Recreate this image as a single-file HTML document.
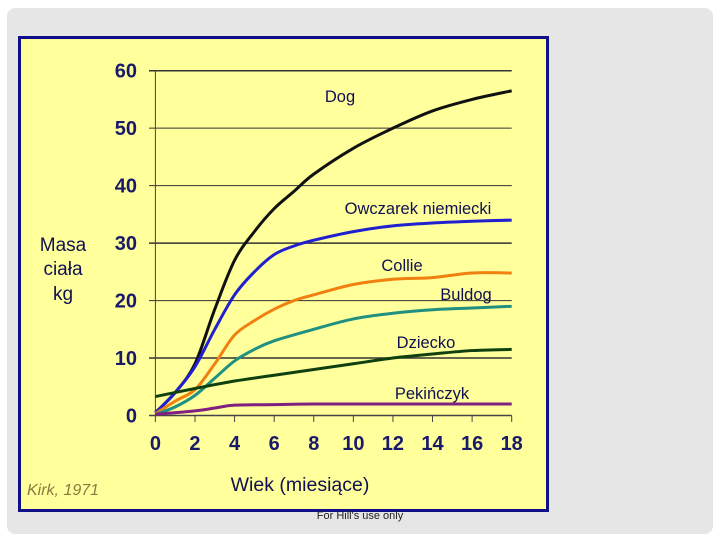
<!DOCTYPE html>
<html><head><meta charset="utf-8"><style>
body{margin:0;width:720px;height:540px;background:#fff;overflow:hidden;font-family:"Liberation Sans","Noto Sans CJK JP",sans-serif}
#panel{position:absolute;left:7px;top:8px;width:706px;height:526px;background:#e6e6e6;border-radius:8px}
#box{position:absolute;left:18px;top:36px;width:525px;height:470px;background:#ffff9c;border:3px solid #10108a}
svg{position:absolute;left:0;top:0}
</style></head><body>
<div id="panel"></div>
<div id="box"></div>
<svg id="chart" width="720" height="540"></svg>
<script>
const xTicks=[0,2,4,6,8,10,12,14,16,18];
const yTicks=[0,10,20,30,40,50,60];
const dogX=[0,1,2,3,4,5,6,7,8,10,12,14,16,18];
const dogY=[0.5,4,9,18.5,27,32,36,39,42,46.5,50,53,55,56.5];
const shepX=[0,1,2,3,4,5,6,7,8,10,12,14,16,18];
const shepY=[0.5,4,8.5,15,21,25,28,29.5,30.5,32,33,33.5,33.8,34];
const collieX=[0,1,2,3,4,5,6,7,8,10,12,14,16,18];
const collieY=[0.3,2.5,4.5,9,14,16.5,18.5,20,21,22.8,23.7,24,24.8,24.8];
const bulldogX=[0,1,2,3,4,5,6,8,10,12,14,16,18];
const bulldogY=[0.2,1.5,3.5,6.5,9.5,11.5,13,15,16.8,17.8,18.4,18.7,19];
const childX=[0,2,4,6,8,10,12,14,16,18];
const childY=[3.3,4.7,6,7,8,9,10,10.7,11.3,11.5];
const pekX=[0,2,3,4,6,8,12,18];
const pekY=[0.2,0.8,1.3,1.8,1.9,2,2,2];
const seriesNames=["Dog","Owczarek niemiecki","Collie","Buldog","Dziecko","Pekińczyk"];
const X=v=>155.4+v*(511.7-155.4)/18;
const Y=v=>415.5-v*(415.5-70.7)/60;
const svg=document.getElementById('chart');
const NS='http://www.w3.org/2000/svg';
function mk(t,a,txt){const e=document.createElementNS(NS,t);for(const k in a)e.setAttribute(k,a[k]);if(txt!=null)e.textContent=txt;svg.appendChild(e);return e;}
yTicks.forEach(v=>{
  const l=mk('line',{x1:149,x2:511.7,y1:Y(v),y2:Y(v),stroke:v==0?'#444':'#333','stroke-width':v%30==0||v==10?1.5:1});
  
  
  const t=mk('text',{x:137,y:Y(v)+7,'text-anchor':'end','font-size':20,'font-weight':'bold',fill:'#1a1a6a'},v);
  
  
});
const ax=mk('line',{x1:155.4,x2:155.4,y1:70.7,y2:415.5,stroke:'#444','stroke-width':1});


xTicks.forEach(v=>{
  const l=mk('line',{x1:X(v),x2:X(v),y1:415.5,y2:422,stroke:'#444'});
  
  
  const t=mk('text',{x:X(v),y:450,'text-anchor':'middle','font-size':20,'font-weight':'bold',fill:'#1a1a6a'},v);
  
  
});
function path(xs,ys){
  const p=xs.map((x,i)=>[X(x),Y(ys[i])]);let d='M'+p[0][0]+','+p[0][1];
  for(let i=0;i<p.length-1;i++){const p0=p[Math.max(0,i-1)],p1=p[i],p2=p[i+1],p3=p[Math.min(p.length-1,i+2)];
    d+=' C'+(p1[0]+(p2[0]-p0[0])/6)+','+(p1[1]+(p2[1]-p0[1])/6)+' '+(p2[0]-(p3[0]-p1[0])/6)+','+(p2[1]-(p3[1]-p1[1])/6)+' '+p2[0]+','+p2[1];}
  return d;}
const S=[[dogX,dogY,'#111111','dog-line'],[shepX,shepY,'#2020d0','shepherd-line'],[collieX,collieY,'#f08010','collie-line'],[bulldogX,bulldogY,'#209080','bulldog-line'],[childX,childY,'#104010','child-line'],[pekX,pekY,'#802080','pekingese-line']];
S.forEach(s=>{const e=mk('path',{d:path(s[0],s[1]),fill:'none',stroke:s[2],'stroke-width':3});
  
  });
const labPos=[[340,102],[418,214],[402,271],[466,300],[426,348],[432,399]];
seriesNames.forEach((n,i)=>{const t=mk('text',{x:labPos[i][0],y:labPos[i][1],'text-anchor':'middle','font-size':16.5,fill:'#101050'},n);
  
  });
[['Masa',251],['ciała',275],['kg',300]].forEach(a=>{const t=mk('text',{x:63,y:a[1],'text-anchor':'middle','font-size':19,fill:'#101050'},a[0]);
  
  });
let t=mk('text',{x:300,y:491,'text-anchor':'middle','font-size':19.5,fill:'#101050'},'Wiek (miesiące)');


t=mk('text',{x:27,y:495,'font-size':16,'font-style':'italic',fill:'#8a7a40'},'Kirk, 1971');


t=mk('text',{x:360,y:519,'text-anchor':'middle','font-size':11,fill:'#222'},"For Hill's use only");


</script>
</body></html>
